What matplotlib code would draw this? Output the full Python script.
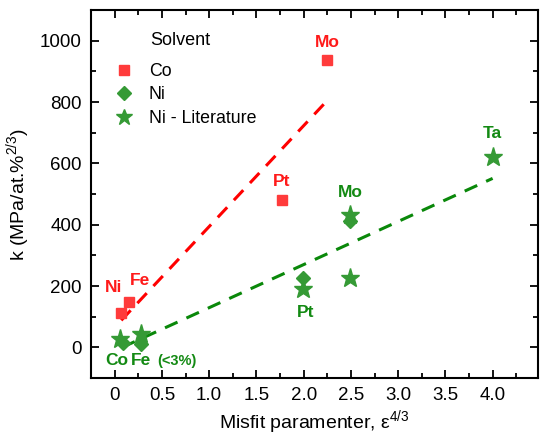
import matplotlib
matplotlib.use("Agg")
import matplotlib.pyplot as plt
from matplotlib.lines import Line2D
from matplotlib.ticker import MultipleLocator

plt.rcParams["font.family"] = ["Liberation Sans", "DejaVu Sans"]
plt.rcParams["mathtext.fontset"] = "custom"
plt.rcParams["mathtext.rm"] = "Liberation Sans"

# solvent Co (own data)
co_x = [0.07, 0.15, 1.77, 2.25]
co_y = [113, 147, 480, 937]

# solvent Ni (own data)
ni_x = [0.09, 0.28, 1.99, 2.49]
ni_y = [13, 10, 225, 412]

# solvent Ni, literature values
lit_x = [0.06, 0.28, 1.99, 2.49, 2.49, 4.00]
lit_y = [27, 45, 190, 432, 226, 621]

# dashed trend lines (end points)
co_fit_x = [0.07, 2.25]
co_fit_y = [88, 805]
ni_fit_x = [0.08, 4.00]
ni_fit_y = [0, 551]

# element labels: (text, x, y)
red_labels = [("Mo", 2.25, 994), ("Pt", 1.77, 542), ("Ni", -0.01, 194), ("Fe", 0.265, 218)]
green_labels = [("Mo", 2.49, 505), ("Pt", 2.02, 113), ("Ta", 4.0, 698),
                ("Co", 0.02, -44), ("Fe", 0.28, -44)]

RED = "#ff3b3b"
RED_TXT = "#ff1a1a"
GREEN = "#359a35"
GREEN_TXT = "#138a13"

fig = plt.figure(figsize=(5.47, 4.37), dpi=100)
ax = fig.add_axes([0.1664, 0.135, 0.8171, 0.842])

ax.plot(co_fit_x, co_fit_y, color="#ff0000", lw=2.2, ls=(0, (4.5, 3.2)))
ax.plot(ni_fit_x, ni_fit_y, color="#0a880a", lw=2.2, ls=(0, (4.5, 3.2)))

ax.plot(co_x, co_y, ls="none", marker="s", ms=7.5, color=RED, mec=RED)
ax.plot(ni_x, ni_y, ls="none", marker="D", ms=7, color=GREEN, mec=GREEN)
ax.plot(lit_x, lit_y, ls="none", marker="*", ms=14, color=GREEN, mec=GREEN)

for txt, x, y in red_labels:
    ax.text(x, y, txt, color=RED_TXT, fontsize=12.5, fontweight="bold", ha="center", va="center")
for txt, x, y in green_labels:
    ax.text(x, y, txt, color=GREEN_TXT, fontsize=12.5, fontweight="bold", ha="center", va="center")
ax.text(0.66, -46, "(<3%)", color=GREEN_TXT, fontsize=10.5, fontweight="bold", ha="center", va="center")

ax.set_xlim(-0.25, 4.48)
ax.set_ylim(-100, 1100)
ax.xaxis.set_major_locator(MultipleLocator(0.5))
ax.xaxis.set_minor_locator(MultipleLocator(0.25))
ax.yaxis.set_major_locator(MultipleLocator(200))
ax.yaxis.set_minor_locator(MultipleLocator(100))
ax.set_xticks([0, 0.5, 1.0, 1.5, 2.0, 2.5, 3.0, 3.5, 4.0])
ax.set_xticklabels(["0", "0.5", "1.0", "1.5", "2.0", "2.5", "3.0", "3.5", "4.0"])
ax.tick_params(which="both", direction="in", top=True, right=True, labelsize=13.5, width=1.3)
ax.tick_params(which="major", length=6, pad=6.5)
ax.tick_params(which="minor", length=3.5)
for sp in ax.spines.values():
    sp.set_linewidth(1.5)

ax.set_xlabel("Misfit paramenter, ε$^{4/3}$", fontsize=14, labelpad=3)
ax.set_ylabel("k (MPa/at.%$^{2/3}$)", fontsize=14, labelpad=5)

ax.text(0.132, 0.918, "Solvent", transform=ax.transAxes, fontsize=13, ha="left", va="center")
handles = [
    Line2D([], [], ls="none", marker="s", ms=7, color=RED),
    Line2D([], [], ls="none", marker="D", ms=7, color=GREEN),
    Line2D([], [], ls="none", marker="*", ms=12, color=GREEN),
]
labels = ["Co", "Ni", "Ni - Literature"]
ax.legend(handles, labels, loc="upper left", bbox_to_anchor=(0.03, 0.885), frameon=False,
          fontsize=12.8, handlelength=1.0, handletextpad=0.9, labelspacing=0.36,
          borderpad=0.1)

fig.savefig("out.png", dpi=100)
